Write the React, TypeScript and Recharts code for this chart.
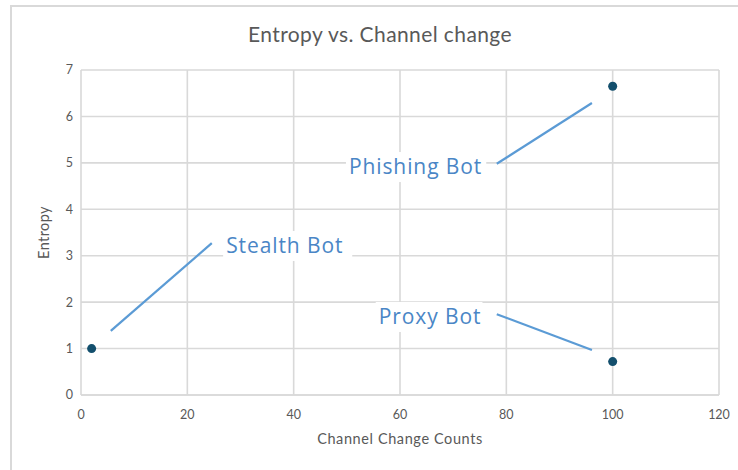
import React from "react";
import {
  CartesianGrid,
  ReferenceDot,
  ReferenceLine,
  Scatter,
  ScatterChart,
  XAxis,
  YAxis,
} from "recharts";

const bots = ["Stealth Bot", "Phishing Bot", "Proxy Bot"];
const channelChanges = [2, 100, 100];
const entropy = [1, 6.65, 0.72];

const xTicks = [0, 20, 40, 60, 80, 100, 120];
const yTicks = [0, 1, 2, 3, 4, 5, 6, 7];

const points = bots.map((name, i) => ({ name, x: channelChanges[i], y: entropy[i] }));

// callout placement, in axis units
const calloutText = [
  { x: 27.3, y: 3.21 },
  { x: 50.4, y: 4.91 },
  { x: 56.0, y: 1.68 },
];
const calloutLine = [
  [{ x: 5.6, y: 1.38 }, { x: 24.6, y: 3.27 }],
  [{ x: 78.2, y: 4.98 }, { x: 96.1, y: 6.29 }],
  [{ x: 78.2, y: 1.74 }, { x: 96.1, y: 0.97 }],
];

const GRID = "#d9d9d9";
const TEXT = "#595959";
const CALLOUT = "#4a86c6";
const LEADER = "#5b9bd5";
const DOT = "#134f6d";
const FONT = "Lato, 'Open Sans', sans-serif";

function CalloutLabel({ cx, cy, text }: { cx?: number; cy?: number; text: string }) {
  if (cx == null || cy == null) return null;
  const fs = 21;
  const ls = 0.9;
  const w = text.length * (fs * 0.49 + ls) + 6;
  return (
    <g>
      <rect x={cx - 3} y={cy - 15} width={w} height={30} fill="#ffffff" />
      <text
        x={cx}
        y={cy}
        dy="0.35em"
        fontSize={fs}
        letterSpacing={ls}
        fill={CALLOUT}
        fontFamily="'Open Sans', sans-serif"
      >
        {text}
      </text>
    </g>
  );
}

export default function App() {
  return (
    <div style={{ position: "absolute", left: 0, top: 0, width: 738, height: 470, background: "#fff", overflow: "hidden" }}>
      <div
        style={{
          position: "absolute",
          left: 10,
          top: 5,
          width: 760,
          height: 500,
          borderTop: `2px solid ${GRID}`,
          borderLeft: `2px solid ${GRID}`,
        }}
      />
      <div
        style={{
          position: "absolute",
          left: 0,
          top: 21,
          width: 738,
          textAlign: "center",
          fontFamily: FONT,
          fontSize: 21,
          letterSpacing: 0.4,
          color: TEXT,
          paddingLeft: 22,
          boxSizing: "border-box",
        }}
      >
        Entropy vs. Channel change
      </div>
      <div style={{ position: "absolute", left: 0, top: 0 }}>
        <ScatterChart
          width={738}
          height={470}
          margin={{ top: 70, right: 19, bottom: 15, left: 20 }}
        >
          <CartesianGrid stroke={GRID} strokeWidth={1.6} />
          <XAxis
            type="number"
            dataKey="x"
            domain={[0, 120]}
            ticks={xTicks}
            axisLine={{ stroke: GRID, strokeWidth: 1.6 }}
            tickLine={false}
            tickMargin={9}
            height={60}
            tick={{ fill: TEXT, fontSize: 12.5, fontFamily: FONT }}
            label={{
              value: "Channel Change Counts",
              position: "insideBottom",
              offset: 11,
              fill: TEXT,
              fontSize: 14.5,
              letterSpacing: 0.6,
              fontFamily: FONT,
            }}
          />
          <YAxis
            type="number"
            dataKey="y"
            domain={[0, 7]}
            ticks={yTicks}
            axisLine={false}
            tickLine={false}
            width={61}
            tick={{ fill: TEXT, fontSize: 12.5, fontFamily: FONT }}
            label={{
              value: "Entropy",
              angle: -90,
              position: "insideLeft",
              offset: 24,
              fill: TEXT,
              fontSize: 14.5,
              letterSpacing: 0.4,
              fontFamily: FONT,
              style: { textAnchor: "middle" },
            }}
          />
          {calloutLine.map((seg, i) => (
            <ReferenceLine
              key={`l${i}`}
              segment={seg}
              stroke={LEADER}
              strokeWidth={2.2}
              ifOverflow="visible"
            />
          ))}
          {calloutText.map((p, i) => (
            <ReferenceDot
              key={`t${i}`}
              x={p.x}
              y={p.y}
              r={0}
              ifOverflow="visible"
              shape={(props: any) => <CalloutLabel cx={props.cx} cy={props.cy} text={bots[i]} />}
            />
          ))}
          <Scatter data={points} fill={DOT} isAnimationActive={false} shape="circle" />
        </ScatterChart>
      </div>
    </div>
  );
}
